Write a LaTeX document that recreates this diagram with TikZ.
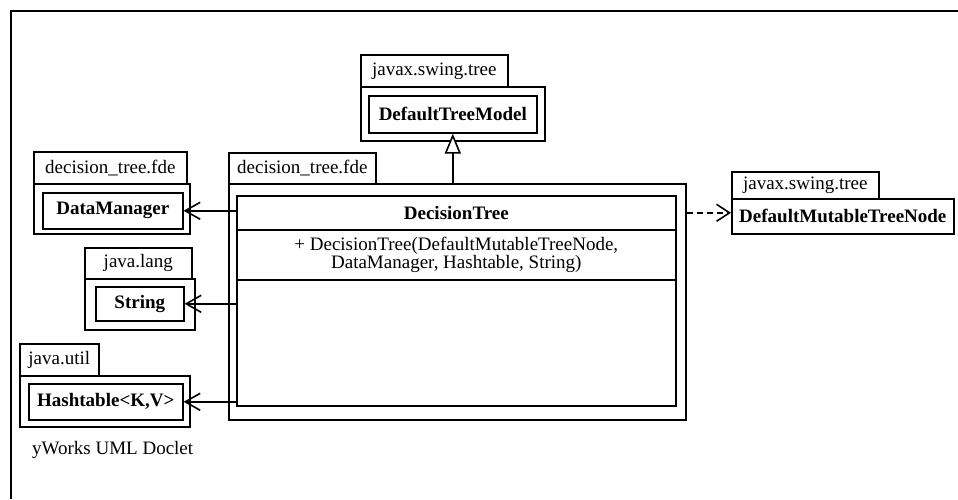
\documentclass[tikz,border=0pt]{standalone}
\usepackage{fontspec}
\setmainfont{Liberation Serif}
\usetikzlibrary{arrows.meta}

\tikzset{
	umlbox/.style={draw, line width=1.6pt, anchor=north west, inner sep=0pt, fill=white},
	wh/.style 2 args={minimum width=#1, minimum height=#2},
	pkgtab/.style={umlbox, font=\fontsize{19}{17.5}\selectfont},
	clsbox/.style={umlbox, font=\fontsize{19}{17.5}\selectfont\bfseries},
	uses/.style={line width=1.6pt, -{Straight Barb[length=15pt, width=17pt, line width=1.6pt]}},
	extends/.style={line width=1.6pt, -{Triangle[open, length=20pt, width=16pt, line width=1.6pt, fill=white]}},
	depends/.style={line width=1.8pt, dash pattern=on 6pt off 4pt, -{Straight Barb[length=13pt, width=17pt, line width=1.6pt]}}
}

\begin{document}
\begin{tikzpicture}[x=1pt, y=-1pt]
		%%%%% START %%%%%
		\useasboundingbox (0, 0) rectangle (958, 499);
		\draw[line width=1.6pt] (11, 499) -- (11, 11) -- (958, 11);

		% javax.swing.tree / DefaultTreeModel
		\node[pkgtab, wh={147pt}{32pt}] (tmtab) at (360, 54) {javax.swing.tree};
		\node[umlbox, wh={184pt}{54pt}] (tmpkg) at (360, 86) {};
		\node[clsbox, wh={168pt}{37pt}] (tmcls) at (368, 95) {DefaultTreeModel};

		% decision_tree.fde / DecisionTree
		\node[pkgtab, wh={147pt}{31pt}] (dttab) at (228, 152) {decision\_tree.fde};
		\node[umlbox, wh={457pt}{236pt}] (dtpkg) at (228, 183) {};
		\node[clsbox, wh={439pt}{34pt}] (dtname) at (236, 195) {DecisionTree};
		\node[pkgtab, wh={439pt}{50pt}, align=center] (dtops) at (236, 229)
			{+ DecisionTree(DefaultMutableTreeNode,\\DataManager, Hashtable, String)};
		\node[umlbox, wh={439pt}{126pt}] (dtrest) at (236, 279) {};

		% decision_tree.fde / DataManager
		\node[pkgtab, wh={153pt}{32pt}] (dmtab) at (33, 151) {decision\_tree.fde};
		\node[umlbox, wh={156pt}{50pt}] (dmpkg) at (33, 183) {};
		\node[clsbox, wh={140pt}{36pt}] (dmcls) at (42, 192) {DataManager};

		% java.lang / String
		\node[pkgtab, wh={107pt}{31pt}] (strtab) at (84, 247) {java.lang};
		\node[umlbox, wh={110pt}{51pt}] (strpkg) at (84, 278) {};
		\node[clsbox, wh={88pt}{34pt}] (strcls) at (95, 286) {String};

		% java.util / Hashtable
		\node[pkgtab, wh={79pt}{32pt}] (httab) at (19, 343) {java.util};
		\node[umlbox, wh={170pt}{51pt}] (htpkg) at (19, 375) {};
		\node[clsbox, wh={154pt}{36pt}] (htcls) at (28, 383) {Hashtable<K,V>};

		% javax.swing.tree / DefaultMutableTreeNode
		\node[pkgtab, wh={147pt}{27pt}] (mttab) at (731, 171) {javax.swing.tree};
		\node[clsbox, wh={222pt}{35pt}] (mtcls) at (731, 198) {DefaultMutableTreeNode};

		\node[anchor=west, inner sep=0pt, font=\fontsize{19}{17.5}\selectfont] (doclet) at (32, 450) {yWorks UML Doclet};

		% connectors
		\draw[extends] (dtpkg.north -| tmcls.south) -- (tmcls.south);
		\draw[uses] (dtname.west |- dmcls.east) -- (dmcls.east);
		\draw[uses] (dtrest.west |- strcls.east) -- (strcls.east);
		\draw[uses] (dtrest.west |- htcls.east) -- (htcls.east);
		\draw[depends] (dtpkg.east |- dtname.center) -- (mtcls.west |- dtname.center);
		%%%%% END %%%%%
\end{tikzpicture}
\end{document}
